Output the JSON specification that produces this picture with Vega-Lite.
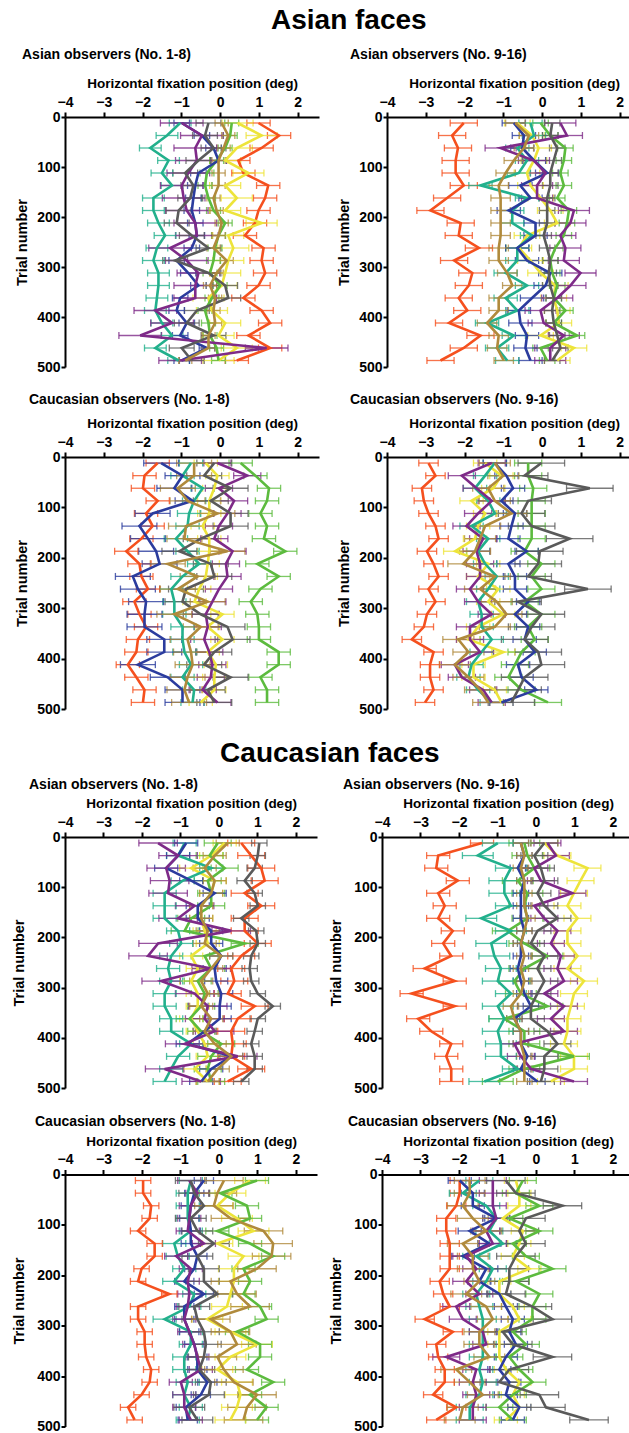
{
"$schema":"https://vega.github.io/schema/vega-lite/v6.json",
"padding":{"left":11,"top":6,"right":0,"bottom":0},
"config":{"view":{"stroke":null},"font":"Liberation Sans",
"title":{"font":"Liberation Sans","fontWeight":"bold","color":"#000"},
"axis":{"grid":false,"domainColor":"#000","domainWidth":2,"tickColor":"#000","tickWidth":2,"tickSize":5,"labelFont":"Liberation Sans","labelFontSize":14,"labelFontWeight":"bold","labelColor":"#000","titleFont":"Liberation Sans","titleFontSize":13.5,"titleFontWeight":"bold","titleColor":"#000","labelFlush":false},
"axisX":{"titlePadding":4.5,"labelPadding":3},
"axisY":{"titlePadding":7,"labelPadding":1,"tickSize":4,"titleFontSize":14.5}},
"data":{"values":[
{"P":1,"s":"r","e":0.3,"t":[12,37,62,87,112,137,162,187,212,237,262,287,312,337,362,387,412,437,462,487],"x":[0.99,1.52,1.07,0.47,0.6,1.24,1.16,0.99,0.9,0.64,1.12,1.07,1.16,0.99,0.6,1.07,1.29,0.73,1.29,0.43]},
{"P":1,"s":"y","e":0.4,"t":[12,37,62,87,112,137,162,187,212,237,262,287,312,337,362,387,412,437,462,487],"x":[0.45,1.07,0.43,0.13,0.73,0.13,0.43,0.13,1.07,0.21,0.34,0.21,0.13,0.04,-0.3,-0.21,0.13,-0.04,0.43,-0.04]},
{"P":1,"s":"g","e":0.18,"t":[12,37,62,87,112,137,162,187,212,237,262,287,312,337,362,387,412,437,462,487],"x":[0.3,0.26,0.13,-0.09,-0.34,-0.39,-0.3,-0.17,0.13,-0.04,-0.13,-0.17,-0.26,0,-0.21,-0.39,-0.3,-0.26,-0.09,-0.04]},
{"P":1,"s":"c","e":0.28,"t":[12,37,62,87,112,137,162,187,212,237,262,287,312,337,362,387,412,437,462,487],"x":[-1.03,-1.37,-1.8,-1.33,-1.5,-1.24,-1.72,-1.72,-1.59,-1.42,-1.63,-1.72,-1.59,-1.59,-1.63,-1.67,-1.5,-1.24,-1.67,-1.07]},
{"P":1,"s":"b","e":0.2,"t":[12,37,62,87,112,137,162,187,212,237,262,287,312,337,362,387,412,437,462,487],"x":[-0.99,-0.47,-0.17,-0.04,-0.56,-0.64,-0.69,-0.73,-0.64,-0.6,-0.73,-1.12,-0.82,-0.56,-1.03,-1.12,-0.86,-1.03,-0.34,-0.99]},
{"P":1,"s":"p","e":0.55,"t":[12,37,62,87,112,137,162,187,212,237,262,287,312,337,362,387,412,437,462,487],"x":[-0.99,-0.47,-0.64,-0.6,-0.82,-0.99,-0.94,-0.86,-0.64,-0.6,-1.29,-0.86,-0.56,-0.64,-0.64,-1.67,-1.24,-2.06,1.2,-1.03]},
{"P":1,"s":"k","e":0.32,"t":[12,37,62,87,112,137,162,187,212,237,262,287,312,337,362,387,412,437,462,487],"x":[-0.3,-0.39,-0.17,-0.56,-0.9,-0.69,-0.77,-1.07,-1.12,-0.73,-0.3,-1.16,-0.3,0.13,0.21,-0.6,-0.86,-0.17,-0.99,-0.73]},
{"P":1,"s":"n","e":0.17,"t":[12,37,62,87,112,137,162,187,212,237,262,287,312,337,362,387,412,437,462,487],"x":[0.04,0.21,0.09,-0.04,-0.04,-0.04,-0.17,-0.09,0.04,-0.04,-0.17,0.17,-0.09,-0.26,-0.13,-0.17,-0.13,-0.3,-0.3,-0.9]},
{"P":2,"s":"r","e":0.35,"t":[12,37,62,87,112,137,162,187,212,237,262,287,312,337,362,387,412,437,462,487],"x":[-2.02,-2.32,-2.17,-2.23,-2.23,-2.02,-2.45,-2.88,-2.1,-2.15,-1.63,-2.27,-1.8,-1.89,-2.15,-1.93,-2.4,-1.59,-2.02,-2.62]},
{"P":2,"s":"y","e":0.33,"t":[12,37,62,87,112,137,162,187,212,237,262,287,312,337,362,387,412,437,462,487],"x":[-0.64,-0.26,-0.09,-0.21,-0.39,-0.3,-0.04,0.21,0.39,-0.39,-0.6,-0.3,-0.04,0.34,0.3,0.39,0.43,-0.04,0.82,0.39]},
{"P":2,"s":"g","e":0.2,"t":[12,37,62,87,112,137,162,187,212,237,262,287,312,337,362,387,412,437,462,487],"x":[-0.04,0.21,0.6,0.56,0.47,0.56,0.39,0.69,0.64,0.56,0.34,0.21,0.26,0.39,0.3,0.6,0.3,0.9,-0.04,0.13]},
{"P":2,"s":"c","e":0.3,"t":[12,37,62,87,112,137,162,187,212,237,262,287,312,337,362,387,412,437,462,487],"x":[-0.3,-0.21,-0.64,-0.39,-0.6,-1.59,-0.39,-0.77,-0.77,-0.26,-0.64,-0.64,-0.94,-0.39,-0.94,-0.64,-1.42,-0.73,-1.16,-0.9]},
{"P":2,"s":"b","e":0.3,"t":[12,37,62,87,112,137,162,187,212,237,262,287,312,337,362,387,412,437,462,487],"x":[-0.73,-0.47,-0.51,-0.21,0.13,-0.56,-0.3,-0.86,-0.17,-0.17,-0.64,-0.39,0.21,0.09,-0.26,-0.6,-0.56,-0.39,-0.43,-0.3]},
{"P":2,"s":"p","e":0.4,"t":[12,37,62,87,112,137,162,187,212,237,262,287,312,337,362,387,412,437,462,487],"x":[0.47,0.64,-1.07,-0.21,0.09,-0.13,-0.13,0.82,0.73,0.47,0.6,0.56,0.99,0.73,0.39,-0.04,0.04,0.56,0.21,0.21]},
{"P":2,"s":"k","e":0.2,"t":[12,37,62,87,112,137,162,187,212,237,262,287,312,337,362,387,412,437,462,487],"x":[0.26,0.21,0.39,0.3,0.21,0.21,0.13,0.13,0.13,0.04,0.13,0.21,0.17,0.21,0.3,0.26,0.3,0.39,0.47,0.26]},
{"P":2,"s":"n","e":0.25,"t":[12,37,62,87,112,137,162,187,212,237,262,287,312,337,362,387,412,437,462,487],"x":[-0.69,-0.34,-0.47,-0.73,-0.94,-1.12,-1.07,-1.07,-1.07,-1.07,-1.12,-1.12,-0.9,-0.77,-1.12,-1.12,-1.42,-1.12,-1.16,-0.99]},
{"P":3,"s":"r","e":0.3,"t":[12,37,62,87,112,137,162,187,212,237,262,287,312,337,362,387,412,437,462,487],"x":[-1.61,-1.95,-1.99,-1.61,-1.91,-1.74,-2.03,-2.42,-2.08,-2.03,-1.86,-2.21,-2.08,-1.91,-2.12,-2.16,-2.38,-2.16,-1.95,-1.99]},
{"P":3,"s":"y","e":0.3,"t":[12,37,62,87,112,137,162,187,212,237,262,287,312,337,362,387,412,437,462,487],"x":[-0.37,-0.07,-0.15,-0.28,-0.28,-0.45,-0.28,-0.28,-0.32,-0.37,-0.54,-0.66,0.06,-0.32,0.06,-0.32,-0.11,-0.15,-0.15,-0.5]},
{"P":3,"s":"g","e":0.3,"t":[12,37,62,87,112,137,162,187,212,237,262,287,312,337,362,387,412,437,462,487],"x":[0.53,0.91,1.26,1.21,1.04,1.21,1.13,1.68,0.96,1.51,1.04,0.79,0.96,1.0,1.0,1.51,1.51,1.04,1.21,1.21]},
{"P":3,"s":"c","e":0.3,"t":[12,37,62,87,112,137,162,187,212,237,262,287,312,337,362,387,412,437,462,487],"x":[-0.75,-0.97,-0.45,-0.67,-0.8,-0.84,-1.14,-0.84,-0.54,-0.97,-1.26,-1.18,-1.18,-0.97,-0.97,-0.92,-0.75,-0.97,-0.67,-0.71]},
{"P":3,"s":"b","e":0.45,"t":[12,37,62,87,112,137,162,187,212,237,262,287,312,337,362,387,412,437,462,487],"x":[-1.52,-0.97,-1.18,-0.71,-1.74,-2.08,-1.86,-1.65,-1.56,-2.25,-2.12,-1.91,-1.95,-1.95,-1.44,-1.44,-2.12,-1.35,-0.97,-0.97]},
{"P":3,"s":"p","e":0.35,"t":[12,37,62,87,112,137,162,187,212,237,262,287,312,337,362,387,412,437,462,487],"x":[-0.07,0.7,-0.03,0.36,0.19,-0.03,-0.15,0.32,0.15,0.19,-0.03,-0.2,-0.37,-0.32,-0.41,-0.28,-0.2,-0.24,-0.45,-0.07]},
{"P":3,"s":"k","e":0.45,"t":[12,37,62,87,112,137,162,187,212,237,262,287,312,337,362,387,412,437,462,487],"x":[-0.15,-0.41,0.27,-0.24,0.27,0.27,-0.5,-1.05,-0.24,-0.15,-0.88,-0.97,-0.5,0.19,0.32,-0.15,-0.41,0.27,-0.32,-0.15]},
{"P":3,"s":"n","e":0.45,"t":[12,37,62,87,112,137,162,187,212,237,262,287,312,337,362,387,412,437,462,487],"x":[-0.67,-0.67,-1.09,-0.84,-0.07,-0.88,-0.92,0.19,-1.35,-0.58,-1.09,-0.32,-1.18,-0.5,-0.84,-0.75,-0.71,-0.84,-0.92,-0.8]},
{"P":4,"s":"r","e":0.25,"t":[12,37,62,87,112,137,162,187,212,237,262,287,312,337,362,387,412,437,462,487],"x":[-2.93,-2.75,-3.1,-3.05,-2.93,-2.75,-2.67,-2.97,-2.8,-2.67,-2.93,-2.75,-2.97,-3.05,-3.36,-2.8,-2.89,-2.89,-2.8,-3.02]},
{"P":4,"s":"y","e":0.3,"t":[12,37,62,87,112,137,162,187,212,237,262,287,312,337,362,387,412,437,462,487],"x":[-1.47,-1.05,-1.26,-1.82,-1.47,-1.65,-1.73,-2.24,-1.39,-1.65,-1.13,-1.39,-1.0,-1.65,-1.9,-1.0,-1.77,-1.77,-1.22,-1.05]},
{"P":4,"s":"g","e":0.35,"t":[12,37,62,87,112,137,162,187,212,237,262,287,312,337,362,387,412,437,462,487],"x":[-0.36,-0.36,-0.23,-0.27,-0.27,-0.27,-0.27,-0.45,-0.02,-0.27,-0.02,-0.45,-0.02,-0.36,-0.19,-0.53,-0.7,-0.87,-0.53,0.15]},
{"P":4,"s":"c","e":0.3,"t":[12,37,62,87,112,137,162,187,212,237,262,287,312,337,362,387,412,437,462,487],"x":[-1.22,-1.47,-1.73,-1.39,-1.22,-1.82,-1.39,-1.65,-1.47,-1.17,-1.39,-1.65,-1.56,-1.56,-1.3,-1.56,-1.82,-1.9,-1.65,-1.3]},
{"P":4,"s":"b","e":0.3,"t":[12,37,62,87,112,137,162,187,212,237,262,287,312,337,362,387,412,437,462,487],"x":[-1.22,-0.92,-0.75,-1.05,-0.7,-0.79,-0.87,-0.4,-0.87,-0.7,-0.7,-0.36,-0.7,-0.36,-0.45,-0.19,-0.62,-0.53,-0.15,-1.05]},
{"P":4,"s":"p","e":0.35,"t":[12,37,62,87,112,137,162,187,212,237,262,287,312,337,362,387,412,437,462,487],"x":[-1.3,-2.07,-1.69,-1.3,-1.65,-1.95,-1.52,-1.69,-1.6,-1.6,-1.86,-1.65,-1.3,-1.86,-1.86,-1.6,-2.25,-2.07,-1.52,-1.3]},
{"P":4,"s":"k","e":0.6,"t":[12,37,62,87,112,137,162,187,212,237,262,287,312,337,362,387,412,437,462,487],"x":[-0.02,-0.45,1.23,-0.36,-0.53,-0.27,0.71,-0.06,-0.1,-0.36,1.18,-0.62,-0.02,-0.27,-0.45,-0.1,-0.02,-0.45,-0.62,-0.79]},
{"P":4,"s":"n","e":0.4,"t":[12,37,62,87,112,137,162,187,212,237,262,287,312,337,362,387,412,437,462,487],"x":[-1.22,-1.0,-1.39,-1.22,-0.79,-1.47,-1.6,-1.73,-2.03,-1.22,-1.6,-1.17,-0.92,-1.22,-2.16,-1.9,-2.25,-1.9,-1.6,-1.39]},
{"P":5,"s":"r","e":0.35,"t":[12,37,62,87,112,137,162,187,212,237,262,287,312,337,362,387,412,437,462,487],"x":[0.58,0.84,1.1,1.19,0.67,1.1,0.67,0.67,1.01,0.58,0.32,0.4,0.23,0.93,0.49,0.32,0.36,0.32,0.84,0.23]},
{"P":5,"s":"y","e":0.3,"t":[12,37,62,87,112,137,162,187,212,237,262,287,312,337,362,387,412,437,462,487],"x":[0.15,-0.2,-0.72,-0.11,-0.2,-0.46,-0.46,-0.37,-0.29,-0.72,-0.55,-0.72,-0.55,-0.55,-0.72,-0.55,-0.37,-0.29,-0.63,-0.29]},
{"P":5,"s":"g","e":0.35,"t":[12,37,62,87,112,137,162,187,212,237,262,287,312,337,362,387,412,437,462,487],"x":[-0.03,-0.24,0.15,-0.29,-0.2,-0.2,-0.72,-0.89,0.67,-0.37,-0.2,-0.55,-0.37,-0.46,-0.76,-0.46,0.06,-0.2,-0.29,-0.2]},
{"P":5,"s":"c","e":0.3,"t":[12,37,62,87,112,137,162,187,212,237,262,287,312,337,362,387,412,437,462,487],"x":[-0.89,-1.06,-0.2,-0.94,-1.41,-1.41,-1.41,-1.06,-0.98,-1.24,-1.32,-1.24,-1.41,-1.41,-1.24,-1.24,-0.72,-1.06,-1.24,-1.41]},
{"P":5,"s":"b","e":0.3,"t":[12,37,62,87,112,137,162,187,212,237,262,287,312,337,362,387,412,437,462,487],"x":[-0.85,-1.06,-1.37,-0.72,-0.11,-0.55,-0.55,-0.2,-0.2,0.06,-0.11,-0.07,0.06,0.02,0.02,-0.37,-0.81,0.32,-0.2,-0.46]},
{"P":5,"s":"p","e":0.5,"t":[12,37,62,87,112,137,162,187,212,237,262,287,312,337,362,387,412,437,462,487],"x":[-1.58,-1.06,-1.37,-1.28,-1.32,-0.63,-1.06,0.32,-1.58,-1.84,-0.2,-1.5,-0.63,-0.29,-0.37,-0.11,-0.89,0.49,-1.41,-0.46]},
{"P":5,"s":"k","e":0.2,"t":[12,37,62,87,112,137,162,187,212,237,262,287,312,337,362,387,412,437,462,487],"x":[1.05,1.01,0.93,0.67,0.93,1.01,0.58,0.97,1.01,0.84,0.8,0.84,1.01,1.4,1.01,0.93,0.84,0.93,0.93,0.58]},
{"P":5,"s":"n","e":0.3,"t":[12,37,62,87,112,137,162,187,212,237,262,287,312,337,362,387,412,437,462,487],"x":[0.23,-0.11,-0.37,-0.11,-0.2,-0.46,-0.46,-0.29,-0.37,0.06,-0.2,-0.46,-0.29,-0.46,-0.2,-0.37,-0.11,0.32,-0.03,-0.29]},
{"P":6,"s":"r","e":0.3,"t":[12,37,62,87,112,137,162,187,212,237,262,287,312,337,362,387,412,437,462,487],"x":[-1.4,-2.54,-2.59,-2.03,-2.54,-2.37,-2.54,-2.16,-2.41,-2.2,-2.89,-2.11,-3.23,-2.11,-3.06,-2.72,-2.2,-2.33,-2.2,-2.2]},
{"P":6,"s":"y","e":0.35,"t":[12,37,62,87,112,137,162,187,212,237,262,287,312,337,362,387,412,437,462,487],"x":[0.22,0.56,1.34,1.16,0.99,0.82,1.08,0.82,0.82,1.08,0.82,1.25,0.99,0.91,0.82,0.82,0.73,0.99,0.99,0.39]},
{"P":6,"s":"g","e":0.4,"t":[12,37,62,87,112,137,162,187,212,237,262,287,312,337,362,387,412,437,462,487],"x":[-0.3,-0.22,-0.04,-0.47,-0.22,-0.3,-0.22,-0.73,-0.3,0.3,-0.3,-0.56,-0.39,0.3,-0.82,-0.3,-0.3,0.99,-0.3,-0.99]},
{"P":6,"s":"c","e":0.4,"t":[12,37,62,87,112,137,162,187,212,237,262,287,312,337,362,387,412,437,462,487],"x":[-0.99,-1.51,-0.65,-0.82,-0.82,-0.65,-1.42,-0.65,-1.16,-1.08,-0.91,-0.99,-0.65,-0.99,-0.82,-0.99,-0.91,-0.91,-0.47,-1.34]},
{"P":6,"s":"b","e":0.2,"t":[12,37,62,87,112,137,162,187,212,237,262,287,312,337,362,387,412,437,462,487],"x":[-0.39,-0.3,-0.47,-0.3,-0.39,-0.39,-0.39,-0.3,-0.39,-0.39,-0.47,-0.39,-0.3,-0.13,-0.56,-0.39,-0.39,-0.22,-0.39,0.04]},
{"P":6,"s":"p","e":0.35,"t":[12,37,62,87,112,137,162,187,212,237,262,287,312,337,362,387,412,437,462,487],"x":[0.3,0.52,-0.04,0.13,0.95,-0.04,0.22,0.56,0.39,0.65,0.56,0.73,0.22,0.73,0.39,0.73,-0.56,-0.39,-0.13,0.99]},
{"P":6,"s":"k","e":0.35,"t":[12,37,62,87,112,137,162,187,212,237,262,287,312,337,362,387,412,437,462,487],"x":[0.22,-0.04,0.13,0.22,0.04,0.22,0.56,0.04,-0.13,0.22,0.04,0.22,0.04,-0.13,-0.13,0.3,0.56,0.22,0.22,0.13]},
{"P":6,"s":"n","e":0.2,"t":[12,37,62,87,112,137,162,187,212,237,262,287,312,337,362,387,412,437,462,487],"x":[-0.39,-0.3,-0.39,-0.3,-0.3,-0.3,-0.22,-0.3,-0.39,-0.3,-0.39,-0.3,-0.39,-0.65,-0.56,-0.39,-0.39,-0.3,-0.3,-0.3]},
{"P":7,"s":"r","e":0.2,"t":[12,37,62,87,112,137,162,187,212,237,262,287,312,337,362,387,412,437,462,487],"x":[-1.97,-1.97,-1.76,-1.8,-2.1,-1.67,-1.67,-2.01,-2.1,-1.29,-2.1,-2.1,-1.93,-1.93,-1.89,-1.76,-1.8,-2.01,-2.36,-2.19]},
{"P":7,"s":"y","e":0.4,"t":[12,37,62,87,112,137,162,187,212,237,262,287,312,337,362,387,412,437,462,487],"x":[0.81,0.3,-0.04,0.47,0.9,-0.04,0.64,0.39,0.39,0.3,0.21,-0.3,0.3,0.99,0.3,-0.04,0.47,0.56,0.47,0.3]},
{"P":7,"s":"g","e":0.3,"t":[12,37,62,87,112,137,162,187,212,237,262,287,312,337,362,387,412,437,462,487],"x":[0.99,0.04,0.73,0.81,-0.04,0.81,1.41,0.64,0.81,0.64,1.07,1.24,0.47,1.07,1.07,0.73,1.41,0.81,1.24,0.99]},
{"P":7,"s":"c","e":0.3,"t":[12,37,62,87,112,137,162,187,212,237,262,287,312,337,362,387,412,437,462,487],"x":[-0.73,-0.81,-0.81,-0.81,-0.73,-1.16,-1.07,-0.9,-1.16,-0.64,-0.77,-1.41,-0.73,-0.73,-0.9,-0.9,-0.81,-0.9,-0.73,-0.81]},
{"P":7,"s":"b","e":0.25,"t":[12,37,62,87,112,137,162,187,212,237,262,287,312,337,362,387,412,437,462,487],"x":[-0.39,-0.64,-0.73,-0.77,-0.73,-0.73,-0.56,-0.64,-0.9,-0.39,-0.9,-0.9,-0.77,-0.64,-0.56,-0.56,-0.3,-0.47,-0.86,-0.81]},
{"P":7,"s":"p","e":0.3,"t":[12,37,62,87,112,137,162,187,212,237,262,287,312,337,362,387,412,437,462,487],"x":[-0.77,-0.56,-0.73,-0.77,-0.81,-0.39,-1.11,-0.73,-0.81,-0.77,-0.81,-0.9,-0.77,-0.64,-0.56,-0.47,-0.99,-0.9,-0.9,-0.73]},
{"P":7,"s":"k","e":0.4,"t":[12,37,62,87,112,137,162,187,212,237,262,287,312,337,362,387,412,437,462,487],"x":[-0.73,-0.64,-0.39,-0.73,-0.56,-0.13,-0.56,-0.39,-0.39,-0.04,-0.64,-0.56,-0.39,-0.34,-0.39,-0.51,-0.21,-0.26,-0.77,-0.56]},
{"P":7,"s":"n","e":0.5,"t":[12,37,62,87,112,137,162,187,212,237,262,287,312,337,362,387,412,437,462,487],"x":[0.13,-0.04,-0.13,0.3,1.16,1.41,1.37,0.99,0.3,0.47,0.81,-0.21,0.3,0.47,-0.04,0.13,0.39,0.99,0.73,0.64]},
{"P":8,"s":"r","e":0.25,"t":[12,37,62,87,112,137,162,187,212,237,262,287,312,337,362,387,412,437,462,487],"x":[-1.98,-1.98,-2.07,-2.33,-2.33,-2.24,-2.24,-2.24,-2.5,-2.41,-2.24,-2.89,-2.16,-2.59,-2.54,-2.37,-2.37,-2.67,-2.07,-2.59]},
{"P":8,"s":"y","e":0.3,"t":[12,37,62,87,112,137,162,187,212,237,262,287,312,337,362,387,412,437,462,487],"x":[-0.52,-0.43,-0.43,-0.86,-0.34,-0.43,-0.6,-0.17,-0.95,-0.95,-0.6,-0.43,-0.95,-0.95,-0.95,-0.78,-0.43,-0.6,-0.43,-0.78]},
{"P":8,"s":"g","e":0.35,"t":[12,37,62,87,112,137,162,187,212,237,262,287,312,337,362,387,412,437,462,487],"x":[-0.34,-0.52,0.09,-0.69,0.09,-0.6,-0.26,0.43,-0.52,0.09,-0.09,-0.09,-0.6,-0.26,-0.69,-0.43,-0.09,-0.6,-0.95,-0.6]},
{"P":8,"s":"c","e":0.35,"t":[12,37,62,87,112,137,162,187,212,237,262,287,312,337,362,387,412,437,462,487],"x":[-1.47,-1.9,-1.29,-1.03,-1.21,-0.86,-1.55,-1.12,-1.29,-1.55,-1.47,-1.38,-1.38,-1.38,-1.38,-1.47,-1.38,-1.47,-1.72,-1.72]},
{"P":8,"s":"b","e":0.3,"t":[12,37,62,87,112,137,162,187,212,237,262,287,312,337,362,387,412,437,462,487],"x":[-1.98,-1.64,-1.64,-1.03,-1.72,-1.21,-1.9,-1.29,-1.47,-0.95,-0.78,-0.6,-0.69,-0.52,-0.78,-0.95,-0.69,-0.78,-0.43,-0.6]},
{"P":8,"s":"p","e":0.35,"t":[12,37,62,87,112,137,162,187,212,237,262,287,312,337,362,387,412,437,462,487],"x":[-1.12,-1.12,-1.12,-1.03,-1.29,-1.12,-1.81,-1.55,-1.81,-1.47,-2.07,-1.9,-1.38,-1.29,-2.33,-1.55,-1.64,-1.55,-1.64,-1.64]},
{"P":8,"s":"k","e":0.5,"t":[12,37,62,87,112,137,162,187,212,237,262,287,312,337,362,387,412,437,462,487],"x":[-0.78,-0.52,0.69,-0.26,-0.43,-0.26,-0.52,-0.69,-0.69,-0.78,-0.09,0.43,-0.86,-0.6,0.43,-0.69,-0.95,0.09,0.26,1.38]},
{"P":8,"s":"n","e":0.4,"t":[12,37,62,87,112,137,162,187,212,237,262,287,312,337,362,387,412,437,462,487],"x":[-1.72,-1.72,-1.9,-1.64,-1.29,-1.9,-1.64,-1.64,-1.47,-1.81,-1.29,-1.12,-1.47,-1.47,-1.21,-2.07,-1.72,-1.38,-1.9,-1.98]}
]},
"transform":[{"flatten":["t","x"]}],
"spacing":23,
"vconcat":[
{"title":{"text":"Asian faces","fontSize":28,"anchor":"middle","dx":21,"offset":13},
 "spacing":18,
 "vconcat":[
  {"spacing":17,"hconcat":[
   {"width":254,"height":250,"title":{"text":"Asian observers (No. 1-8)","fontSize":14,"anchor":"start","frame":"group","dx":-43,"offset":15},"transform":[{"filter":"datum.P==1"}],
    "encoding":{"x":{"field":"x","type":"quantitative","scale":{"domain":[-4,2.55],"nice":false,"zero":false},"axis":{"orient":"top","values":[-4,-3,-2,-1,0,1,2],"title":"Horizontal fixation position (deg)"}},"y":{"field":"t","type":"quantitative","scale":{"domain":[0,500],"reverse":true,"nice":false,"zero":false},"axis":{"values":[0,100,200,300,400,500],"title":"Trial number"}},"color":{"field":"s","type":"nominal","scale":{"domain":["r","y","g","c","b","p","k","n"],"range":["#F5501E","#EDE43A","#5CBB3E","#22B08C","#2B3C9E","#7E2A88","#5A5A5A","#B08A3C"]},"legend":null}},
    "layer":[{"mark":{"type":"errorbar","thickness":1.3,"opacity":0.8,"ticks":{"size":7}},"encoding":{"xError":{"field":"e"}}},{"mark":{"type":"line","strokeWidth":2.6},"encoding":{"order":{"field":"t","type":"quantitative"}}}]},
   {"width":254,"height":250,"title":{"text":"Asian observers (No. 9-16)","fontSize":14,"anchor":"start","frame":"group","dx":-37,"offset":15},"transform":[{"filter":"datum.P==2"}],
    "encoding":{"x":{"field":"x","type":"quantitative","scale":{"domain":[-4,2.55],"nice":false,"zero":false},"axis":{"orient":"top","values":[-4,-3,-2,-1,0,1,2],"title":"Horizontal fixation position (deg)"}},"y":{"field":"t","type":"quantitative","scale":{"domain":[0,500],"reverse":true,"nice":false,"zero":false},"axis":{"values":[0,100,200,300,400,500],"title":"Trial number"}},"color":{"field":"s","type":"nominal","scale":{"domain":["r","y","g","c","b","p","k","n"],"range":["#F5501E","#EDE43A","#5CBB3E","#22B08C","#2B3C9E","#7E2A88","#5A5A5A","#B08A3C"]},"legend":null}},
    "layer":[{"mark":{"type":"errorbar","thickness":1.3,"opacity":0.8,"ticks":{"size":7}},"encoding":{"xError":{"field":"e"}}},{"mark":{"type":"line","strokeWidth":2.6},"encoding":{"order":{"field":"t","type":"quantitative"}}}]}
  ]},
  {"spacing":17,"hconcat":[
   {"width":254,"height":252,"title":{"text":"Caucasian observers (No. 1-8)","fontSize":14,"anchor":"start","frame":"group","dx":-36,"offset":10},"transform":[{"filter":"datum.P==3"}],
    "encoding":{"x":{"field":"x","type":"quantitative","scale":{"domain":[-4,2.55],"nice":false,"zero":false},"axis":{"orient":"top","values":[-4,-3,-2,-1,0,1,2],"title":"Horizontal fixation position (deg)"}},"y":{"field":"t","type":"quantitative","scale":{"domain":[0,500],"reverse":true,"nice":false,"zero":false},"axis":{"values":[0,100,200,300,400,500],"title":"Trial number"}},"color":{"field":"s","type":"nominal","scale":{"domain":["r","y","g","c","b","p","k","n"],"range":["#F5501E","#EDE43A","#5CBB3E","#22B08C","#2B3C9E","#7E2A88","#5A5A5A","#B08A3C"]},"legend":null}},
    "layer":[{"mark":{"type":"errorbar","thickness":1.3,"opacity":0.8,"ticks":{"size":7}},"encoding":{"xError":{"field":"e"}}},{"mark":{"type":"line","strokeWidth":2.6},"encoding":{"order":{"field":"t","type":"quantitative"}}}]},
   {"width":254,"height":252,"title":{"text":"Caucasian observers (No. 9-16)","fontSize":14,"anchor":"start","frame":"group","dx":-37,"offset":10},"transform":[{"filter":"datum.P==4"}],
    "encoding":{"x":{"field":"x","type":"quantitative","scale":{"domain":[-4,2.55],"nice":false,"zero":false},"axis":{"orient":"top","values":[-4,-3,-2,-1,0,1,2],"title":"Horizontal fixation position (deg)"}},"y":{"field":"t","type":"quantitative","scale":{"domain":[0,500],"reverse":true,"nice":false,"zero":false},"axis":{"values":[0,100,200,300,400,500],"title":"Trial number"}},"color":{"field":"s","type":"nominal","scale":{"domain":["r","y","g","c","b","p","k","n"],"range":["#F5501E","#EDE43A","#5CBB3E","#22B08C","#2B3C9E","#7E2A88","#5A5A5A","#B08A3C"]},"legend":null}},
    "layer":[{"mark":{"type":"errorbar","thickness":1.3,"opacity":0.8,"ticks":{"size":7}},"encoding":{"xError":{"field":"e"}}},{"mark":{"type":"line","strokeWidth":2.6},"encoding":{"order":{"field":"t","type":"quantitative"}}}]}
  ]}
 ]},
{"title":{"text":"Caucasian faces","fontSize":28,"anchor":"middle","dx":7,"offset":10},
 "spacing":19.5,
 "vconcat":[
  {"spacing":11,"hconcat":[
   {"width":252,"height":251,"title":{"text":"Asian observers (No. 1-8)","fontSize":14,"anchor":"start","frame":"group","dx":-36,"offset":5},"transform":[{"filter":"datum.P==5"}],
    "encoding":{"x":{"field":"x","type":"quantitative","scale":{"domain":[-4,2.55],"nice":false,"zero":false},"axis":{"orient":"top","values":[-4,-3,-2,-1,0,1,2],"title":"Horizontal fixation position (deg)"}},"y":{"field":"t","type":"quantitative","scale":{"domain":[0,500],"reverse":true,"nice":false,"zero":false},"axis":{"values":[0,100,200,300,400,500],"title":"Trial number","titlePadding":10}},"color":{"field":"s","type":"nominal","scale":{"domain":["r","y","g","c","b","p","k","n"],"range":["#F5501E","#EDE43A","#5CBB3E","#22B08C","#2B3C9E","#7E2A88","#5A5A5A","#B08A3C"]},"legend":null}},
    "layer":[{"mark":{"type":"errorbar","thickness":1.3,"opacity":0.8,"ticks":{"size":7}},"encoding":{"xError":{"field":"e"}}},{"mark":{"type":"line","strokeWidth":2.6},"encoding":{"order":{"field":"t","type":"quantitative"}}}]},
   {"width":252,"height":251,"title":{"text":"Asian observers (No. 9-16)","fontSize":14,"anchor":"start","frame":"group","dx":-39,"offset":5},"transform":[{"filter":"datum.P==6"}],
    "encoding":{"x":{"field":"x","type":"quantitative","scale":{"domain":[-4,2.55],"nice":false,"zero":false},"axis":{"orient":"top","values":[-4,-3,-2,-1,0,1,2],"title":"Horizontal fixation position (deg)"}},"y":{"field":"t","type":"quantitative","scale":{"domain":[0,500],"reverse":true,"nice":false,"zero":false},"axis":{"values":[0,100,200,300,400,500],"title":"Trial number","titlePadding":10}},"color":{"field":"s","type":"nominal","scale":{"domain":["r","y","g","c","b","p","k","n"],"range":["#F5501E","#EDE43A","#5CBB3E","#22B08C","#2B3C9E","#7E2A88","#5A5A5A","#B08A3C"]},"legend":null}},
    "layer":[{"mark":{"type":"errorbar","thickness":1.3,"opacity":0.8,"ticks":{"size":7}},"encoding":{"xError":{"field":"e"}}},{"mark":{"type":"line","strokeWidth":2.6},"encoding":{"order":{"field":"t","type":"quantitative"}}}]}
  ]},
  {"spacing":11,"hconcat":[
   {"width":252,"height":252,"title":{"text":"Caucasian observers (No. 1-8)","fontSize":14,"anchor":"start","frame":"group","dx":-30,"offset":5},"transform":[{"filter":"datum.P==7"}],
    "encoding":{"x":{"field":"x","type":"quantitative","scale":{"domain":[-4,2.55],"nice":false,"zero":false},"axis":{"orient":"top","values":[-4,-3,-2,-1,0,1,2],"title":"Horizontal fixation position (deg)"}},"y":{"field":"t","type":"quantitative","scale":{"domain":[0,500],"reverse":true,"nice":false,"zero":false},"axis":{"values":[0,100,200,300,400,500],"title":"Trial number","titlePadding":10}},"color":{"field":"s","type":"nominal","scale":{"domain":["r","y","g","c","b","p","k","n"],"range":["#F5501E","#EDE43A","#5CBB3E","#22B08C","#2B3C9E","#7E2A88","#5A5A5A","#B08A3C"]},"legend":null}},
    "layer":[{"mark":{"type":"errorbar","thickness":1.3,"opacity":0.8,"ticks":{"size":7}},"encoding":{"xError":{"field":"e"}}},{"mark":{"type":"line","strokeWidth":2.6},"encoding":{"order":{"field":"t","type":"quantitative"}}}]},
   {"width":252,"height":252,"title":{"text":"Caucasian observers (No. 9-16)","fontSize":14,"anchor":"start","frame":"group","dx":-34,"offset":5},"transform":[{"filter":"datum.P==8"}],
    "encoding":{"x":{"field":"x","type":"quantitative","scale":{"domain":[-4,2.55],"nice":false,"zero":false},"axis":{"orient":"top","values":[-4,-3,-2,-1,0,1,2],"title":"Horizontal fixation position (deg)"}},"y":{"field":"t","type":"quantitative","scale":{"domain":[0,500],"reverse":true,"nice":false,"zero":false},"axis":{"values":[0,100,200,300,400,500],"title":"Trial number","titlePadding":10}},"color":{"field":"s","type":"nominal","scale":{"domain":["r","y","g","c","b","p","k","n"],"range":["#F5501E","#EDE43A","#5CBB3E","#22B08C","#2B3C9E","#7E2A88","#5A5A5A","#B08A3C"]},"legend":null}},
    "layer":[{"mark":{"type":"errorbar","thickness":1.3,"opacity":0.8,"ticks":{"size":7}},"encoding":{"xError":{"field":"e"}}},{"mark":{"type":"line","strokeWidth":2.6},"encoding":{"order":{"field":"t","type":"quantitative"}}}]}
  ]}
 ]}
]
}
